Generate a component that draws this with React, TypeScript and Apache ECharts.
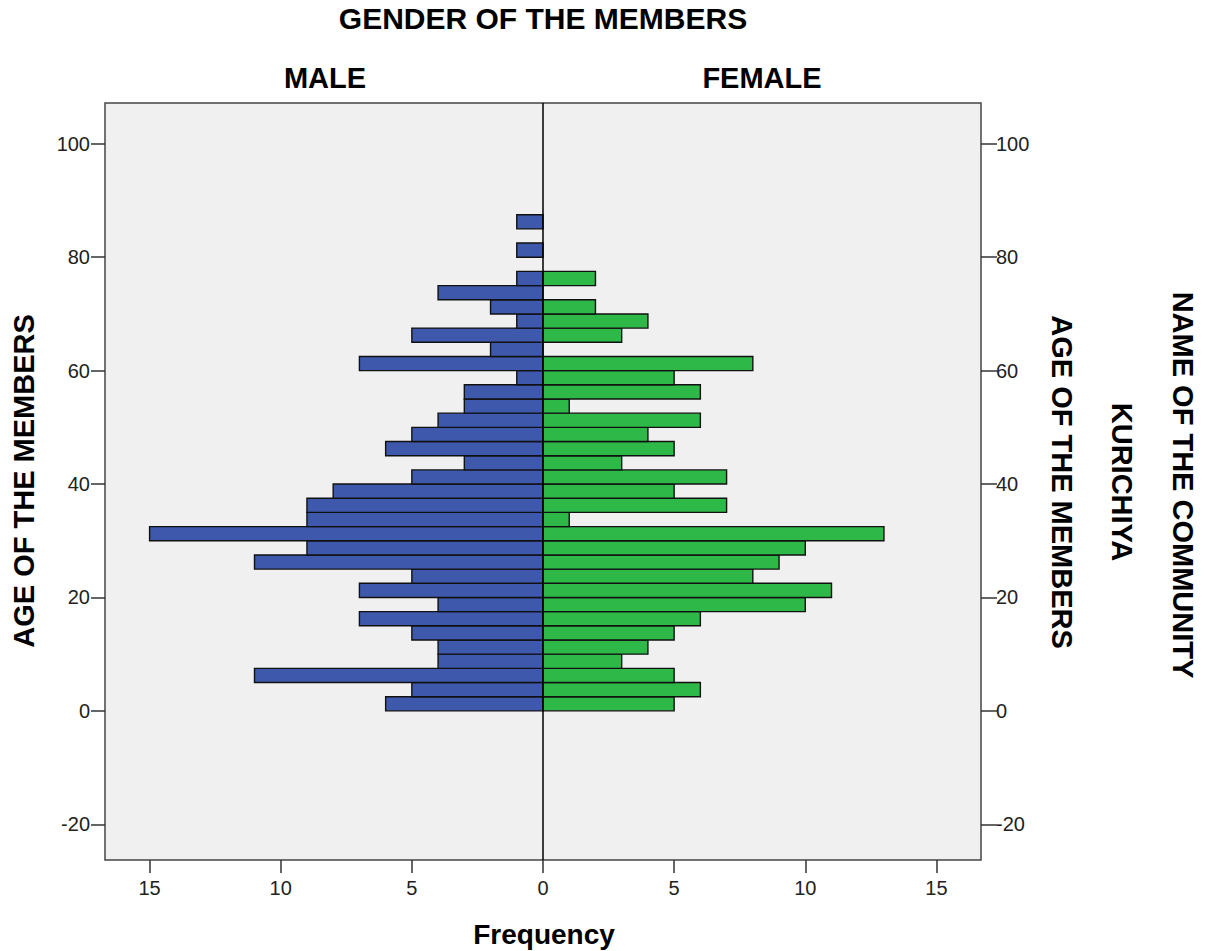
import React, { useEffect, useRef } from "react";
import * as echarts from "echarts";

// Age bins (start of each 2.5-year bin)
const ageBinStarts = [
  0, 2.5, 5, 7.5, 10, 12.5, 15, 17.5, 20, 22.5, 25, 27.5, 30, 32.5, 35, 37.5,
  40, 42.5, 45, 47.5, 50, 52.5, 55, 57.5, 60, 62.5, 65, 67.5, 70, 72.5, 75,
  77.5, 80, 82.5, 85,
];
const binWidth = 2.5;

const maleCounts = [
  6, 5, 11, 4, 4, 5, 7, 4, 7, 5, 11, 9, 15, 9, 9, 8, 5, 3, 6, 5, 4, 3, 3, 1, 7,
  2, 5, 1, 2, 4, 1, 0, 1, 0, 1,
];
const femaleCounts = [
  5, 6, 5, 3, 4, 5, 6, 10, 11, 8, 9, 10, 13, 1, 7, 5, 7, 3, 5, 4, 6, 1, 6, 5, 8,
  0, 3, 4, 2, 0, 2, 0, 0, 0, 0,
];

const xTicks = [-15, -10, -5, 0, 5, 10, 15];
const yTicks = [-20, 0, 20, 40, 60, 80, 100];

const FONT = "'Liberation Sans', Arial, Helvetica, sans-serif";
const MALE_COLOR = "#3E58AC";
const FEMALE_COLOR = "#2EB848";

export default function App() {
  const ref = useRef<HTMLDivElement>(null);

  useEffect(() => {
    if (!ref.current) return;
    const chart = echarts.init(ref.current, undefined, { renderer: "svg" });

    const maleData = ageBinStarts
      .map((s, i) => [s, s + binWidth, -maleCounts[i]])
      .filter((d) => d[2] !== 0);
    const femaleData = ageBinStarts
      .map((s, i) => [s, s + binWidth, femaleCounts[i]])
      .filter((d) => d[2] !== 0);

    const renderItem = (color: string) => (params: any, api: any) => {
      const start = api.value(0);
      const end = api.value(1);
      const val = api.value(2);
      const p1 = api.coord([0, start]);
      const p2 = api.coord([val, end]);
      const x = Math.min(p1[0], p2[0]);
      const y = Math.min(p1[1], p2[1]);
      return {
        type: "rect",
        shape: {
          x,
          y,
          width: Math.abs(p2[0] - p1[0]),
          height: Math.abs(p2[1] - p1[1]),
        },
        style: { fill: color, stroke: "#111", lineWidth: 1.4 },
      };
    };

    const boldText = (
      text: string,
      x: number,
      y: number,
      rotation = 0,
      size = 29
    ) => ({
      type: "text",
      x,
      y,
      rotation,
      silent: true,
      style: {
        text,
        fontSize: size,
        fontWeight: "bold",
        fontFamily: FONT,
        fill: "#000",
        align: "center",
        verticalAlign: "middle",
        textAlign: "center",
        textVerticalAlign: "middle",
      },
    });

    const axisLabelStyle = {
      fontSize: 20,
      fontFamily: FONT,
      color: "#222",
    };

    chart.setOption({
      animation: false,
      backgroundColor: "#ffffff",
      grid: {
        left: 105,
        right: 226,
        top: 103,
        bottom: 91,
        show: true,
        backgroundColor: "#f0f0f0",
        borderColor: "#444",
        borderWidth: 1.5,
        outerBoundsMode: "none",
      },
      xAxis: {
        type: "value",
        position: "bottom",
        min: -16.7,
        max: 16.7,
        splitLine: { show: false },
        axisLine: { show: false, onZero: false },
        axisTick: {
          show: true,
          length: 13,
          customValues: xTicks,
          lineStyle: { color: "#333", width: 1.5 },
        },
        axisLabel: {
          ...axisLabelStyle,
          margin: 18,
          customValues: xTicks,
          formatter: (v: number) => String(Math.abs(v)),
        },
      },
      yAxis: [
        {
          type: "value",
          position: "left",
          min: -26.3,
          max: 107.2,
          splitLine: { show: false },
          axisLine: { show: false, onZero: false },
          axisTick: {
            show: true,
            length: 14,
            customValues: yTicks,
            lineStyle: { color: "#333", width: 1.5 },
          },
          axisLabel: {
            ...axisLabelStyle,
            margin: 15,
            customValues: yTicks,
          },
        },
        {
          type: "value",
          position: "right",
          min: -26.3,
          max: 107.2,
          splitLine: { show: false },
          axisLine: { show: false, onZero: false },
          axisTick: {
            show: true,
            length: 16,
            customValues: yTicks,
            lineStyle: { color: "#333", width: 1.5 },
          },
          axisLabel: {
            ...axisLabelStyle,
            margin: 15,
            customValues: yTicks,
          },
        },
      ],
      series: [
        {
          name: "MALE",
          type: "custom",
          xAxisIndex: 0,
          yAxisIndex: 0,
          renderItem: renderItem(MALE_COLOR),
          encode: { x: 2, y: [0, 1] },
          data: maleData,
          markLine: {
            silent: true,
            symbol: ["none", "none"],
            label: { show: false },
            lineStyle: { color: "#000", width: 1.5, type: "solid" },
            data: [{ xAxis: 0 }],
            z: 10,
          },
        },
        {
          name: "FEMALE",
          type: "custom",
          xAxisIndex: 0,
          yAxisIndex: 0,
          renderItem: renderItem(FEMALE_COLOR),
          encode: { x: 2, y: [0, 1] },
          data: femaleData,
        },
      ],
      graphic: [
        boldText("GENDER OF THE MEMBERS", 543, 18, 0, 30),
        boldText("MALE", 325, 78),
        boldText("FEMALE", 762, 78),
        boldText("Frequency", 544, 934, 0, 28),
        boldText("AGE OF THE MEMBERS", 24, 481, Math.PI / 2),
        boldText("AGE OF THE MEMBERS", 1062, 482, -Math.PI / 2),
        boldText("KURICHIYA", 1122, 482, -Math.PI / 2),
        boldText("NAME OF THE COMMUNITY", 1183, 485, -Math.PI / 2),
      ],
    });

    return () => {
      chart.dispose();
    };
  }, []);

  return (
    <div
      ref={ref}
      style={{ position: "absolute", left: 0, top: 0, width: 1207, height: 951 }}
    />
  );
}
